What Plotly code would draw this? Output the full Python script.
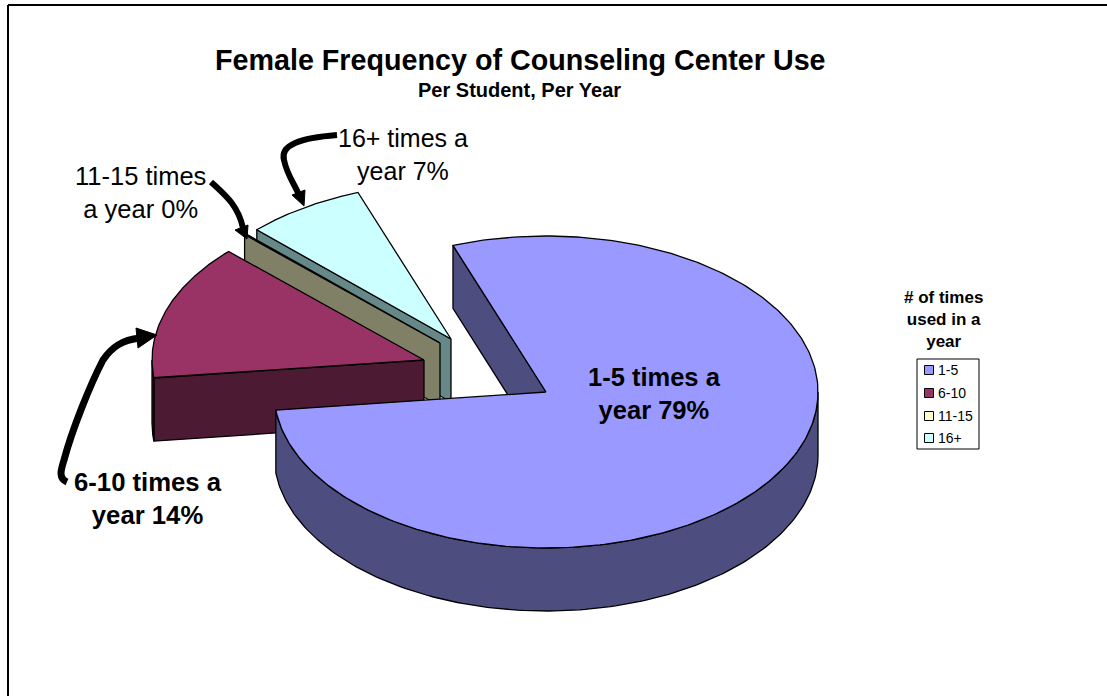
import numpy as np
import plotly.graph_objects as go

# ---- data ----
categories = ["1-5", "6-10", "11-15", "16+"]
values = [78.7, 14.1, 0.1, 7.1]
top_colors = ["#9999FF", "#993366", "#FFFFCC", "#CCFFFF"]
wall_colors = ["#4D4D80", "#4D1A33", "#808066", "#668888"]
explode_px = [(0, 0), (-122, -32), (-106, -49), (-95, -53)]
legend_title = "# of times<br>used in a<br>year"

# ---- pie geometry (px space) ----
CX, CY, RX, RY, DEPTH = 546, 392, 272, 156, 63
FIRST_ANGLE = 340.0


def rim(cx, cy, a):
    t = np.radians(a)
    return cx + RX * np.sin(t), cy - RY * np.cos(t)


def poly(fig, xs, ys, fill, name):
    fig.add_trace(go.Scatter(
        x=list(xs), y=list(ys), mode="lines", fill="toself", fillcolor=fill,
        line=dict(color="#000000", width=1.3), hoverinfo="skip", name=name,
        showlegend=False,
    ))


fig = go.Figure()
spans = np.array(values) / sum(values) * 360.0
starts = FIRST_ANGLE + np.concatenate([[0], np.cumsum(spans)[:-1]])
draw_order = [3, 2, 1, 0]
for i in draw_order:
    a0, a1 = starts[i], starts[i] + spans[i]
    cx, cy = CX + explode_px[i][0], CY + explode_px[i][1]
    ex, ey = rim(cx, cy, a0)
    # radial wall on the leading edge
    poly(fig, [cx, ex, ex, cx, cx], [cy, ey, ey + DEPTH, cy + DEPTH, cy], wall_colors[i], categories[i])
    # outer wall: only the part that faces the viewer (90..270 deg, modulo 360)
    for k in range(-1, 3):
        lo, hi = max(a0, 90 + 360 * k), min(a1, 270 + 360 * k)
        if hi > lo:
            a = np.linspace(lo, hi, 160)
            x, y = rim(cx, cy, a)
            poly(fig, np.r_[x, x[::-1], x[0]], np.r_[y, y[::-1] + DEPTH, y[0]], wall_colors[i], categories[i])
    # top face
    a = np.linspace(a0, a1, 300)
    x, y = rim(cx, cy, a)
    poly(fig, np.r_[cx, x, cx], np.r_[cy, y, cy], top_colors[i], categories[i])

# legend swatches
legend_y = [370, 393, 416, 438]
fig.add_trace(go.Scatter(
    x=[929] * 4, y=legend_y, mode="markers", hoverinfo="skip", showlegend=False,
    marker=dict(symbol="square", size=9, color=top_colors, line=dict(color="#000000", width=1)),
))

FONT = "Liberation Sans, Arial, sans-serif"
ann = []


def text(x, y, s, size, bold=False):
    ann.append(dict(x=x, y=y, xref="x", yref="y", text=f"<b>{s}</b>" if bold else s, showarrow=False,
                    xanchor="center", yanchor="middle", align="center",
                    font=dict(family=FONT, size=size, color="#000000")))


text(520, 60, "Female Frequency of Counseling Center Use", 28.7, True)
text(519.5, 90, "Per Student, Per Year", 20, True)
text(654, 393, "1-5 times a<br>year 79%", 25.5, True)
text(147.5, 498, "6-10 times a<br>year 14%", 25.7, True)
text(403, 154, "16+ times a<br>year 7%", 25)
text(140, 192, "11-15 times<br>a year 0%", 25.5)
text(943, 319, legend_title, 17, True)
for c, yy in zip(categories, legend_y):
    ann.append(dict(x=936, y=yy, xref="x", yref="y", text=c, showarrow=False, xanchor="left", yanchor="middle",
                    font=dict(family=FONT, size=14, color="#000000")))

shapes = [
    dict(type="line", x0=8, y0=5, x1=8, y1=696, line=dict(color="#000000", width=2), xref="x", yref="y"),
    dict(type="line", x0=8, y0=5, x1=1107, y1=5, line=dict(color="#000000", width=2), xref="x", yref="y"),
    dict(type="rect", x0=917, y0=359, x1=979, y1=449, line=dict(color="#000000", width=1), xref="x", yref="y"),
    dict(type="path", path="M337,135 C300,138 280,145 284,160 C287,175 295,185 299,195", line=dict(color="#000000", width=6), xref="x", yref="y"),
    dict(type="path", path="M304,206 L292,195 L305,190 Z", fillcolor="#000000", line=dict(color="#000000", width=1), xref="x", yref="y"),
    dict(type="path", path="M211,182 C225,195 238,205 243,228", line=dict(color="#000000", width=6), xref="x", yref="y"),
    dict(type="path", path="M247,239 L235,230 L248,225 Z", fillcolor="#000000", line=dict(color="#000000", width=1), xref="x", yref="y"),
    dict(type="path", path="M67,482 C58,478 61,470 64,460 C72,430 90,385 103,360 C112,347 122,340 140,338", line=dict(color="#000000", width=7), xref="x", yref="y"),
    dict(type="path", path="M157,335 L136,328 L138,348 Z", fillcolor="#000000", line=dict(color="#000000", width=1), xref="x", yref="y"),
]

fig.update_layout(
    width=1107, height=696, margin=dict(l=0, r=0, t=0, b=0),
    paper_bgcolor="#FFFFFF", plot_bgcolor="#FFFFFF", showlegend=False,
    xaxis=dict(range=[0, 1107], visible=False, fixedrange=True),
    yaxis=dict(range=[696, 0], visible=False, fixedrange=True),
    annotations=ann, shapes=shapes,
)
fig.write_html("out.html", config={"displayModeBar": False},
               post_script="document.body.style.margin='0';")
